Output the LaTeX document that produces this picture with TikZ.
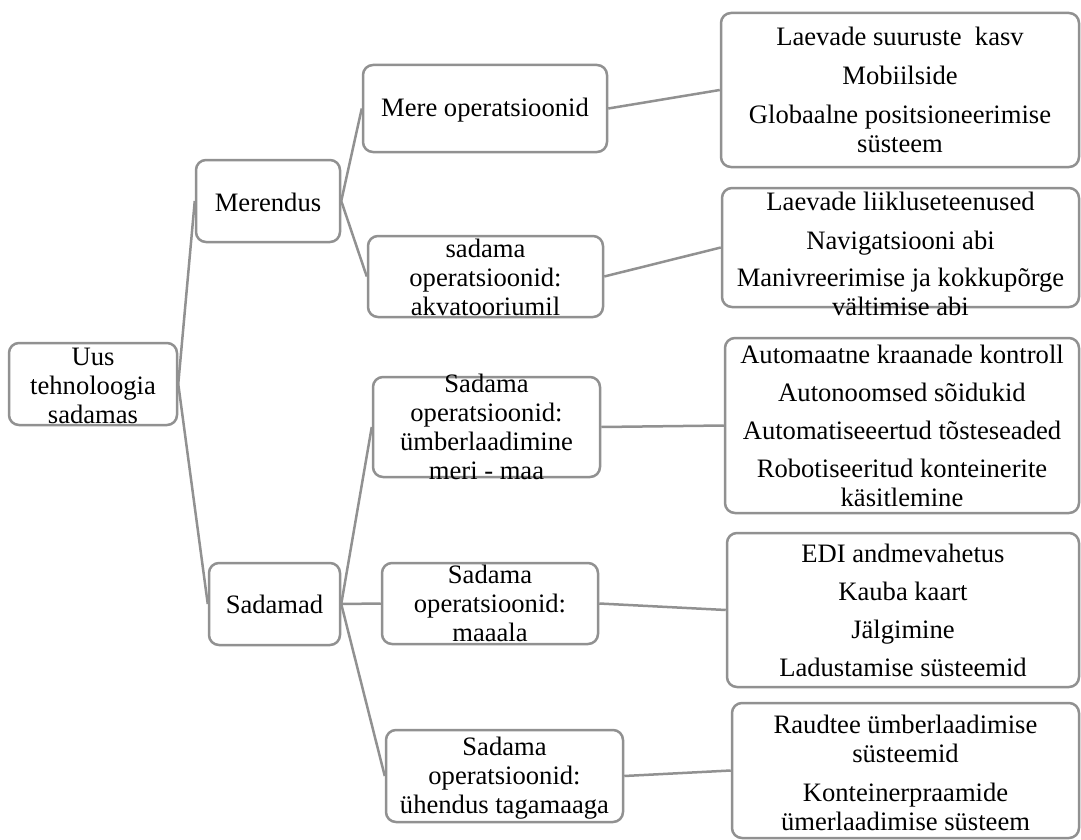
\documentclass[tikz,border=0pt]{standalone}
\usepackage{fontspec}
\setmainfont{Liberation Serif}
\definecolor{boxgray}{RGB}{145,145,145}
\newcommand{\fs}{\fontsize{26.6}{29}\selectfont}
\tikzset{
  box/.style={draw=boxgray, line width=2.5pt, rounded corners=10pt, inner sep=0pt, fill=white},
  txt/.style={align=center, font=\fs, inner sep=0pt},
  link/.style={draw=boxgray, line width=2.5pt}
}
\begin{document}
\begin{tikzpicture}[x=1pt,y=-1pt]
\useasboundingbox (0,0) rectangle (1081,840);
% boxes
\node[box, minimum width=168, minimum height=82] (root) at (93,384) {};
\node[box, minimum width=144, minimum height=82] (mer) at (268,201) {};
\node[box, minimum width=131, minimum height=82] (sad) at (274.5,604) {};
\node[box, minimum width=244, minimum height=87] (mere) at (485,108.5) {};
\node[box, minimum width=235, minimum height=81] (akv) at (485.5,276.5) {};
\node[box, minimum width=227, minimum height=100] (umb) at (486.5,427) {};
\node[box, minimum width=216, minimum height=81] (maa) at (490,603.5) {};
\node[box, minimum width=237, minimum height=92] (uhe) at (504.5,776) {};
\node[box, minimum width=358, minimum height=154] (r1) at (900,90) {};
\node[box, minimum width=357, minimum height=119] (r2) at (900.5,247.5) {};
\node[box, minimum width=354, minimum height=175] (r3) at (902,425.5) {};
\node[box, minimum width=352, minimum height=154] (r4) at (903,610) {};
\node[box, minimum width=347, minimum height=135] (r5) at (905.5,770.5) {};
% texts
\node[txt] (root-t) at ([yshift=-2]root.center) {Uus\\tehnoloogia\\sadamas};
\node[txt] (mer-t) at ([yshift=-1]mer.center) {Merendus};
\node[txt] (sad-t) at (sad.center) {Sadamad};
\node[txt] (mere-t) at ([yshift=-2]mere.center) {Mere operatsioonid};
\node[txt] (akv-t) at ([yshift=-1]akv.center) {sadama\\operatsioonid:\\akvatooriumil};
\node[txt] (umb-t) at (umb.center) {Sadama\\operatsioonid:\\ümberlaadimine\\meri - maa};
\node[txt] (maa-t) at (maa.center) {Sadama\\operatsioonid:\\maaala};
\node[txt] (uhe-t) at ([yshift=-2]uhe.center) {Sadama\\operatsioonid:\\ühendus tagamaaga};
\node[txt] (r1-t) at (r1.center) {Laevade suuruste~ kasv\\[10pt]Mobiilside\\[10pt]Globaalne positsioneerimise\\süsteem};
\node[txt] (r2-t) at ([yshift=-6]r2.center) {Laevade liikluseteenused\\[10pt]Navigatsiooni abi\\[8pt]Manivreerimise ja kokkupõrge\\vältimise abi};
\node[txt] (r3-t) at (r3.center) {Automaatne kraanade kontroll\\[9pt]Autonoomsed sõidukid\\[9pt]Automatiseeertud tõsteseaded\\[9pt]Robotiseeritud konteinerite\\käsitlemine};
\node[txt] (r4-t) at (r4.center) {EDI andmevahetus\\[9pt]Kauba kaart\\[9pt]Jälgimine\\[9pt]Ladustamise süsteemid};
\node[txt] (r5-t) at ([yshift=-2]r5.center) {Raudtee ümberlaadimise\\süsteemid\\[10pt]Konteinerpraamide\\ümerlaadimise süsteem};
% connectors
\draw[link] (root.east) -- (mer.west);
\draw[link] (root.east) -- (sad.west);
\draw[link] (mer.east) -- (mere.west);
\draw[link] (mer.east) -- (akv.west);
\draw[link] (sad.east) -- (umb.west);
\draw[link] (sad.east) -- (maa.west);
\draw[link] (sad.east) -- (uhe.west);
\draw[link] (mere.east) -- (r1.west);
\draw[link] (akv.east) -- (r2.west);
\draw[link] (umb.east) -- (r3.west);
\draw[link] (maa.east) -- (r4.west);
\draw[link] (uhe.east) -- (r5.west);
\end{tikzpicture}
\end{document}
